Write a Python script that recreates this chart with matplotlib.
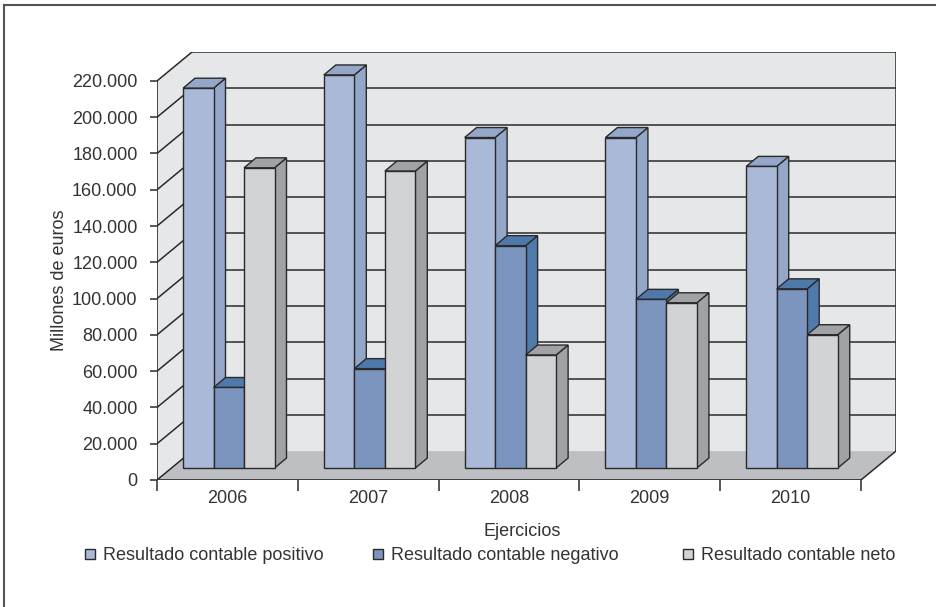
import matplotlib
matplotlib.use("Agg")
import matplotlib.pyplot as plt
from matplotlib.patches import Polygon
from matplotlib.lines import Line2D

# ---- data (millones de euros) ----
years = ["2006", "2007", "2008", "2009", "2010"]
series_names = ["Resultado contable positivo",
                "Resultado contable negativo",
                "Resultado contable neto"]
positivo = [209400, 216700, 182200, 182200, 166300]
negativo = [44400, 54800, 122600, 93000, 98800]
neto = [165500, 163700, 62300, 91100, 73500]
y_ticks = list(range(0, 220001, 20000))

series = [positivo, negativo, neto]

# face colours: (front, side, top)
face_colors = [("#aab9d7", "#94a7c9", "#94a7c9"),
               ("#7b95bf", "#5079ac", "#4f78ab"),
               ("#d2d3d5", "#a1a2a5", "#a1a2a5")]
wall_color = "#e6e7e9"
floor_color = "#bebfc2"
line_color = "#2a2a2a"
text_color = "#333333"

plt.rcParams["font.family"] = ["Liberation Sans", "DejaVu Sans"]
FS = 13

# ---- pseudo-3D geometry in data units ----
ymax = 220000
n = len(years)
DX, DY = 0.2486, 15950          # depth of the box (walls / floor)
BASE = 6600                     # bars sit part-way into the floor
BW = 0.2166                     # bar width
GROUP_OFF = 0.185               # left edge of first bar inside a category
SDX, SDY = 0.085, 5500          # bar depth

W, H = 937, 607
fig = plt.figure(figsize=(W / 100, H / 100), dpi=100)
ax = fig.add_axes([157 / W, (H - 480) / H, (896 - 157) / W, (480 - 52) / H])
ax.set_xlim(0, n + DX)
ax.set_ylim(0, ymax + DY)
for s in ax.spines.values():
    s.set_visible(False)
ax.patch.set_visible(False)

# walls and floor
ax.add_patch(Polygon([(0, 0), (DX, DY), (DX, ymax + DY), (0, ymax)],
                     closed=True, facecolor=wall_color, edgecolor="none", zorder=0))
ax.add_patch(Polygon([(DX, DY), (n + DX, DY), (n + DX, ymax + DY), (DX, ymax + DY)],
                     closed=True, facecolor=wall_color, edgecolor="none", zorder=0))
ax.add_patch(Polygon([(0, 0), (n, 0), (n + DX, DY), (DX, DY)],
                     closed=True, facecolor=floor_color, edgecolor="none", zorder=0.5))

# gridlines on the side wall and back wall
for v in y_ticks:
    ax.plot([0, DX], [v, v + DY], color=line_color, lw=1.1, zorder=1)
    if v > 0:
        ax.plot([DX, n + DX], [v + DY, v + DY], color=line_color, lw=1.1, zorder=1)
# box edges
ax.plot([n + DX, n + DX], [DY, ymax + DY], color=line_color, lw=1.1, zorder=1)
ax.plot([n, n + DX], [0, DY], color=line_color, lw=1.1, zorder=1)
ax.plot([0, 0], [0, ymax], color=line_color, lw=1.2, zorder=2)
ax.plot([0, n], [0, 0], color=line_color, lw=1.2, zorder=2)

# bars: front face via ax.bar, side and top faces as polygons
for i in range(n):
    for j, vals in enumerate(series):
        v = vals[i]
        xl = i + GROUP_OFF + j * BW
        xr = xl + BW
        z = 3 + i + j * 0.1
        front, side, top = face_colors[j]
        ax.add_patch(Polygon([(xr, BASE), (xr + SDX, BASE + SDY),
                              (xr + SDX, BASE + v + SDY), (xr, BASE + v)],
                             closed=True, facecolor=side, edgecolor=line_color,
                             lw=1.0, zorder=z))
        ax.add_patch(Polygon([(xl, BASE + v), (xr, BASE + v),
                              (xr + SDX, BASE + v + SDY), (xl + SDX, BASE + v + SDY)],
                             closed=True, facecolor=top, edgecolor=line_color,
                             lw=1.0, zorder=z))
        ax.bar(xl, v, width=BW, bottom=BASE, align="edge", color=front,
               edgecolor=line_color, linewidth=1.0, zorder=z + 0.01)

# axes ticks and labels
ax.set_yticks(y_ticks)
ax.set_yticklabels([f"{v:,}".replace(",", ".") for v in y_ticks])
ax.tick_params(axis="y", direction="out", length=5, width=1.1, color=line_color,
               labelsize=FS, labelcolor=text_color, pad=9)
ax.set_xticks(range(n + 1))
ax.set_xticklabels([""] * (n + 1))
ax.set_xticks([i + 0.5 for i in range(n)], minor=True)
ax.set_xticklabels(years, minor=True)
ax.tick_params(axis="x", which="major", direction="out", length=8, width=1.1,
               color=line_color)
ax.tick_params(axis="x", which="minor", length=0, labelsize=FS,
               labelcolor=text_color, pad=7)

fig.text(60 / W, 1 - 280 / H, "Millones de euros", rotation=90, ha="center",
         va="center", fontsize=FS, color=text_color)
fig.text(522 / W, 1 - 531 / H, "Ejercicios", ha="center", va="center",
         fontsize=FS, color=text_color)

# legend entries
legend_x = [83, 371, 681]
for name, (front, _, _), lx in zip(series_names, face_colors, legend_x):
    h = Line2D([], [], marker="s", linestyle="none", markersize=7.5,
               markerfacecolor=front, markeredgecolor=line_color, markeredgewidth=1.0)
    fig.legend([h], [name], loc="center left",
               bbox_to_anchor=(lx / W, 1 - 556 / H), frameon=False,
               fontsize=FS, handlelength=0.8, handletextpad=0.3,
               borderpad=0, borderaxespad=0, labelcolor=text_color)

# outer frame (left and top edges)
fig.add_artist(Line2D([4 / W, 4 / W], [0, 1 - 5 / H], transform=fig.transFigure,
                      color="#555555", lw=1.5))
fig.add_artist(Line2D([4 / W, 1], [1 - 5 / H, 1 - 5 / H], transform=fig.transFigure,
                      color="#555555", lw=1.5))

fig.savefig("out.png", dpi=100)
